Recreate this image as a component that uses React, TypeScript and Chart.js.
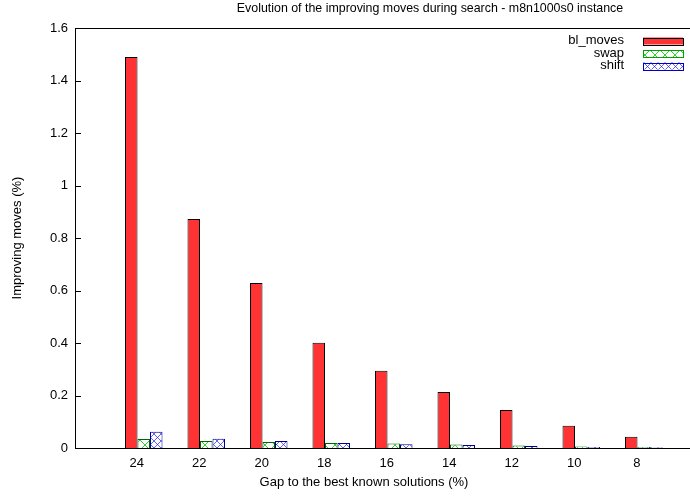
import React, { useEffect, useRef } from 'react';
import { Chart, registerables } from 'chart.js';

Chart.register(...registerables);

// Gap to the best known solutions (%), one cluster per value
const gapLabels = ['24', '22', '20', '18', '16', '14', '12', '10', '8'];

// Improving moves (%) per cluster
const blMoves = [1.49, 0.872, 0.629, 0.401, 0.294, 0.213, 0.145, 0.085, 0.043];
const swapMoves = [0.034, 0.027, 0.023, 0.019, 0.017, 0.013, 0.01, 0.006, 0.004];
const shiftMoves = [0.062, 0.035, 0.027, 0.019, 0.014, 0.011, 0.008, 0.004, 0.003];

const seriesNames = ['bl_moves', 'swap', 'shift'];

const yMin = 0;
const yMax = 1.6;
const yStep = 0.2;

const titleText = 'Evolution of the improving moves during search - m8n1000s0 instance';
const xTitle = 'Gap to the best known solutions (%)';
const yTitle = 'Improving moves (%)';

const FONT = '"Liberation Sans", Arial, Helvetica, sans-serif';
const FONT_SIZE = 13;
const TITLE_SIZE = 12.4;

function crossHatch(size: number, color: string, width: number): CanvasPattern | string {
  const c = document.createElement('canvas');
  c.width = size;
  c.height = size;
  const g = c.getContext('2d');
  if (!g) return '#fff';
  g.fillStyle = '#fff';
  g.fillRect(0, 0, size, size);
  g.strokeStyle = color;
  g.lineWidth = width;
  g.beginPath();
  g.moveTo(0, 0);
  g.lineTo(size, size);
  g.moveTo(size, 0);
  g.lineTo(0, size);
  g.stroke();
  return g.createPattern(c, 'repeat') || '#fff';
}

// Frame, inward tick marks, key and text labels drawn in the gnuplot style
const framePlugin = {
  id: 'gnuFrame',
  afterDraw(chart: any) {
    const { ctx, chartArea: a, scales } = chart;
    const ys = scales.y;
    ctx.save();
    ctx.strokeStyle = '#000';
    ctx.lineWidth = 1;
    ctx.strokeRect(a.left + 0.5, a.top + 0.5, a.right - a.left, a.bottom - a.top);

    ctx.beginPath();
    ys.ticks.forEach((t: any) => {
      const py = Math.round(ys.getPixelForValue(t.value)) + 0.5;
      ctx.moveTo(a.left, py);
      ctx.lineTo(a.left + 6, py);
      ctx.moveTo(a.right, py);
      ctx.lineTo(a.right - 6, py);
    });
    ctx.stroke();

    ctx.fillStyle = '#000';
    ctx.font = `${FONT_SIZE}px ${FONT}`;
    ctx.textBaseline = 'middle';

    // key
    chart.data.datasets.forEach((ds: any, i: number) => {
      const rowY = a.top + 12.5 + i * 12.5;
      ctx.textAlign = 'right';
      ctx.fillStyle = '#000';
      ctx.fillText(ds.label, 624, rowY);
      ctx.fillStyle = ds.backgroundColor;
      ctx.fillRect(643, rowY - 3, 40, 7);
      ctx.strokeStyle = ds.keyBorder;
      ctx.strokeRect(643.5, Math.round(rowY - 3) + 0.5, 40, 7);
    });

    ctx.fillStyle = '#000';
    ctx.textAlign = 'center';
    ctx.fillText(xTitle, 364, 482);
    ctx.font = `${TITLE_SIZE}px ${FONT}`;
    ctx.fillText(titleText, 430, 9);
    ctx.font = `${FONT_SIZE}px ${FONT}`;
    ctx.translate(17, (a.top + a.bottom) / 2);
    ctx.rotate(-Math.PI / 2);
    ctx.fillText(yTitle, 0, 0);
    ctx.restore();
  },
};

export default function App() {
  const ref = useRef<HTMLCanvasElement>(null);

  useEffect(() => {
    const canvas = ref.current;
    if (!canvas) return;
    Chart.defaults.font.family = FONT;
    Chart.defaults.font.size = FONT_SIZE;
    Chart.defaults.color = '#000';

    const swapFill = crossHatch(10, '#00c000', 0.8);
    const shiftFill = crossHatch(7, '#2020ff', 0.7);

    const chart = new Chart(canvas, {
      type: 'bar',
      data: {
        datasets: [
          {
            label: seriesNames[0],
            data: blMoves.map((y, i) => ({ x: i, y })),
            backgroundColor: '#ff3333',
            borderColor: '#000',
            borderWidth: 1,
            keyBorder: '#000',
          } as any,
          {
            label: seriesNames[1],
            data: swapMoves.map((y, i) => ({ x: i, y })),
            backgroundColor: swapFill,
            borderColor: '#006400',
            borderWidth: 1,
            keyBorder: '#00a000',
          } as any,
          {
            label: seriesNames[2],
            data: shiftMoves.map((y, i) => ({ x: i, y })),
            backgroundColor: shiftFill,
            borderColor: '#00008b',
            borderWidth: 1,
            keyBorder: '#0000c0',
          } as any,
        ],
      },
      options: {
        responsive: false,
        animation: false,
        devicePixelRatio: 1,
        layout: { padding: { top: 28, left: 0, right: 0, bottom: 0 } },
        datasets: { bar: { categoryPercentage: 0.6, barPercentage: 1 } },
        plugins: {
          legend: { display: false },
          title: { display: false },
          tooltip: { enabled: false },
        },
        scales: {
          x: {
            type: 'linear',
            min: -1.1,
            max: 8.9,
            offset: false,
            grid: { display: false, drawTicks: false },
            border: { display: false },
            afterBuildTicks: (s: any) => {
              s.ticks = gapLabels.map((_, i) => ({ value: i }));
            },
            afterFit: (s: any) => {
              s.height = 49;
            },
            ticks: {
              autoSkip: false,
              maxRotation: 0,
              padding: 8,
              labelOffset: -7,
              callback: (v: any) => gapLabels[v] ?? '',
            },
          },
          y: {
            min: yMin,
            max: yMax,
            grid: { display: false, drawTicks: false },
            border: { display: false },
            afterFit: (s: any) => {
              s.width = 75;
            },
            ticks: {
              stepSize: yStep,
              padding: 7,
              callback: (v: any) => String(Number(Number(v).toFixed(1))),
            },
          },
        },
      } as any,
      plugins: [framePlugin],
    });
    return () => chart.destroy();
  }, []);

  return (
    <div
      style={{
        position: 'fixed',
        left: 0,
        top: 0,
        width: 690,
        height: 497,
        overflow: 'hidden',
        background: '#fff',
      }}
    >
      <canvas ref={ref} width={700} height={497} style={{ display: 'block' }} />
    </div>
  );
}
